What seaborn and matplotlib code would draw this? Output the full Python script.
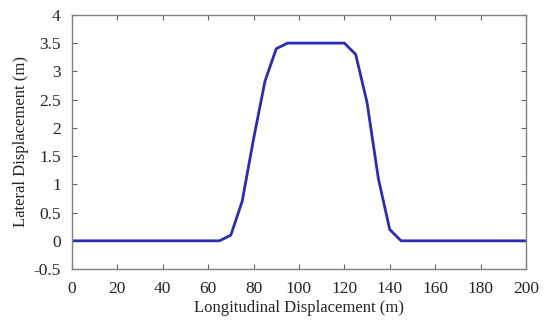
import pandas as pd
import numpy as np
import seaborn as sns
import matplotlib
matplotlib.use("Agg")
import matplotlib.pyplot as plt

# valores
longitudinal = [0, 5, 10, 15, 20, 25, 30, 35, 40, 45, 50, 55, 60, 65, 70, 75, 80, 85, 90, 95,
                100, 105, 110, 115, 120, 125, 130, 135, 140, 145, 150, 155, 160, 165, 170,
                175, 180, 185, 190, 195, 200]
lateral = [0, 0, 0, 0, 0, 0, 0, 0, 0, 0, 0, 0, 0, 0, 0.1, 0.7, 1.8, 2.82, 3.4, 3.5,
           3.5, 3.5, 3.5, 3.5, 3.5, 3.3, 2.45, 1.1, 0.2, 0, 0, 0, 0, 0, 0,
           0, 0, 0, 0, 0, 0]
x_ticks = [0, 20, 40, 60, 80, 100, 120, 140, 160, 180, 200]
y_ticks = [-0.5, 0, 0.5, 1, 1.5, 2, 2.5, 3, 3.5, 4]

df = pd.DataFrame({"x": longitudinal, "y": lateral})

sns.set_style("white")
plt.rcParams["font.family"] = ["Liberation Serif", "DejaVu Serif"]

fig = plt.figure(figsize=(5.45, 3.23), dpi=100)
ax = fig.add_axes([0.132, 0.167, 0.833, 0.787])

sns.lineplot(data=df, x="x", y="y", ax=ax, color="#2b2bb3", linewidth=2.0)

ax.set_xlim(0, 200)
ax.set_ylim(-0.5, 4)
ax.set_xticks(x_ticks)
ax.set_yticks(y_ticks)
ax.set_xticklabels([str(t) for t in x_ticks])
ax.set_yticklabels([f"{t:g}" for t in y_ticks])

for s in ax.spines.values():
    s.set_color("#808080")
    s.set_linewidth(1.0)

ax.tick_params(direction="in", length=3.5, width=0.8, color="#606060",
               top=True, right=True, bottom=True, left=True, labelsize=12.5)
ax.tick_params(axis="x", pad=8.5)
ax.tick_params(axis="y", pad=8)
ax.set_xlabel("Longitudinal Displacement (m)", fontsize=12, labelpad=2)
ax.set_ylabel("Lateral Displacement (m)", fontsize=12, labelpad=3)

fig.savefig("out.png", dpi=100)
